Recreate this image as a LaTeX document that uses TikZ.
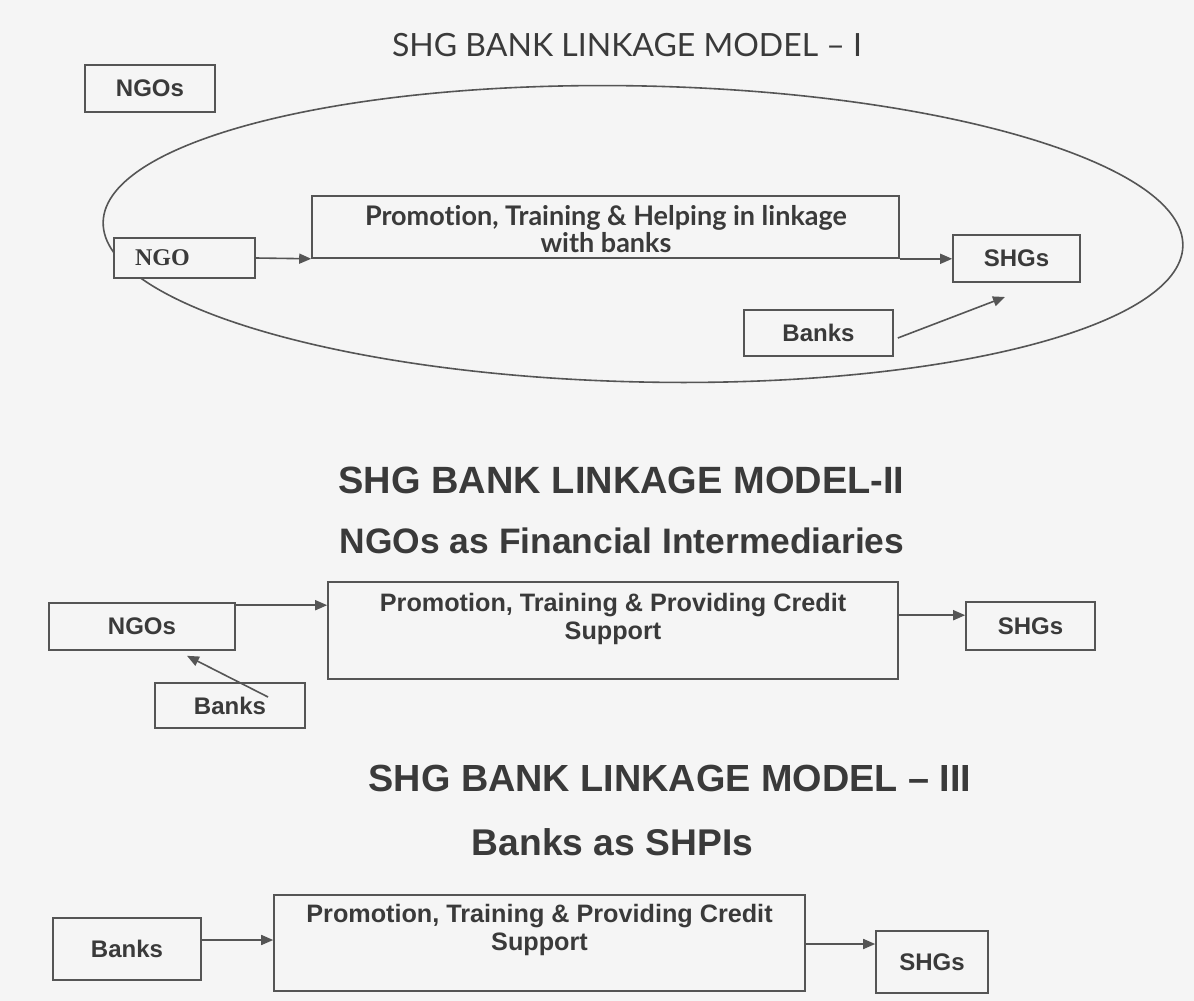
\documentclass[tikz,border=0pt]{standalone}
\usepackage{fontspec}
\setmainfont{Liberation Sans}
\newfontfamily\gill[Ligatures={TeX,NoCommon}]{Lato}
\newfontfamily\tms{Liberation Serif}
\usetikzlibrary{arrows.meta,calc}
\definecolor{bg}{RGB}{245,245,245}
\definecolor{lc}{RGB}{85,85,85}
\definecolor{tc}{RGB}{58,58,58}
\begin{document}
\begin{tikzpicture}[x=0.5pt,y=-0.5pt,
  box/.style={draw=lc, line width=0.8pt, fill=bg, inner sep=0pt, text=tc,
    font=\bfseries\fontsize{12}{14}\selectfont},
  arr/.style={draw=lc, line width=0.8pt, -{Triangle[length=6pt,width=5pt]}},
  ttl/.style={text=tc, inner sep=0pt, anchor=base, font=\bfseries\fontsize{19}{22}\selectfont},
  lbl/.style={text=tc, inner sep=0pt, align=center, anchor=north}]
\fill[bg] (0,0) rectangle (1194,1001);
\useasboundingbox (0,0) rectangle (1194,1001);

% ---------- Model I ----------
\node[ttl, font=\gill\fontsize{16}{19}\selectfont] (t1) at (627,56) {SHG BANK LINKAGE MODEL – I};
\draw[lc, line width=0.8pt, rotate around={-1.27:(643,234)}] (643,234) ellipse [x radius=270pt, y radius=74pt];
\node[box, minimum width=65pt, minimum height=23.5pt] (ngos1) at (150,88.5) {NGOs};
\node[box, font=\tms\bfseries\fontsize{12}{14}\selectfont, minimum height=20pt,
  text width=49.5pt, inner xsep=10.5pt, align=left] (ngo1) at (184.5,258) {NGO};
\node[box, minimum width=293.5pt, minimum height=31pt] (main1) at (605.5,227) {};
\node[lbl, font=\gill\bfseries\fontsize{13.5}{10.5}\selectfont] (main1t) at (606,205)
  {Promotion, Training \& Helping in linkage\\with banks};
\node[box, minimum width=63.5pt, minimum height=23.5pt] (shg1) at (1016.5,258.5) {SHGs};
\node[box, minimum width=74.5pt, minimum height=23pt] (banks1) at (818.5,333) {Banks};
\coordinate (tip1) at (1005,297);
\draw[arr] (ngo1.east) -- (main1.south west);
\draw[arr] (main1.south east) -- (shg1.west |- main1.south east);
\draw[arr] ($(banks1.east)+(4,5)$) -- (tip1);

% ---------- Model II ----------
\node[ttl] (t2) at (621.5,493.5) {SHG BANK LINKAGE MODEL-II};
\node[ttl, font=\bfseries\fontsize{17.7}{21}\selectfont] (t2b) at (622,553) {NGOs as Financial Intermediaries};
\node[box, minimum width=93pt, minimum height=23.5pt] (ngos2) at (142,626.5) {NGOs};
\node[box, minimum width=285pt, minimum height=48.5pt] (main2) at (613,630.5) {};
\node[lbl, font=\bfseries\fontsize{12.6}{14}\selectfont] (main2t) at (613,593)
  {Promotion, Training \& Providing Credit\\Support};
\node[box, minimum width=64.5pt, minimum height=24pt] (shg2) at (1030.5,626) {SHGs};
\node[box, minimum width=75pt, minimum height=22.5pt] (banks2) at (230,705.5) {Banks};
\draw[arr] ($(ngos2.north east)+(0,3)$) -- ($(main2.west |- ngos2.north east)+(0,3)$);
\draw[arr] ($(main2.east |- shg2.north)+(0,14)$) -- ($(shg2.north west)+(0,14)$);
\draw[arr] ($(banks2.center)+(38,-8.5)$) -- ($(ngos2.south)+(45,5)$);

% ---------- Model III ----------
\node[ttl, font=\bfseries\fontsize{18.9}{22}\selectfont] (t3) at (670,791.5) {SHG BANK LINKAGE MODEL – III};
\node[ttl, font=\bfseries\fontsize{18.6}{22}\selectfont] (t3b) at (612.5,855) {Banks as SHPIs};
\node[box, minimum width=74pt, minimum height=31pt] (banks3) at (127,949) {Banks};
\node[box, minimum width=265.5pt, minimum height=48pt] (main3) at (539.5,943) {};
\node[lbl, font=\bfseries\fontsize{12.6}{14}\selectfont] (main3t) at (539.5,904)
  {Promotion, Training \& Providing Credit\\Support};
\node[box, minimum width=56pt, minimum height=31pt] (shg3) at (932,962) {SHGs};
\draw[arr] ($(banks3.east)+(0,-9)$) -- ($(main3.west)+(0,-3)$);
\draw[arr] ($(main3.east)+(0,1)$) -- ($(shg3.west)+(0,-18)$);
\end{tikzpicture}
\end{document}
